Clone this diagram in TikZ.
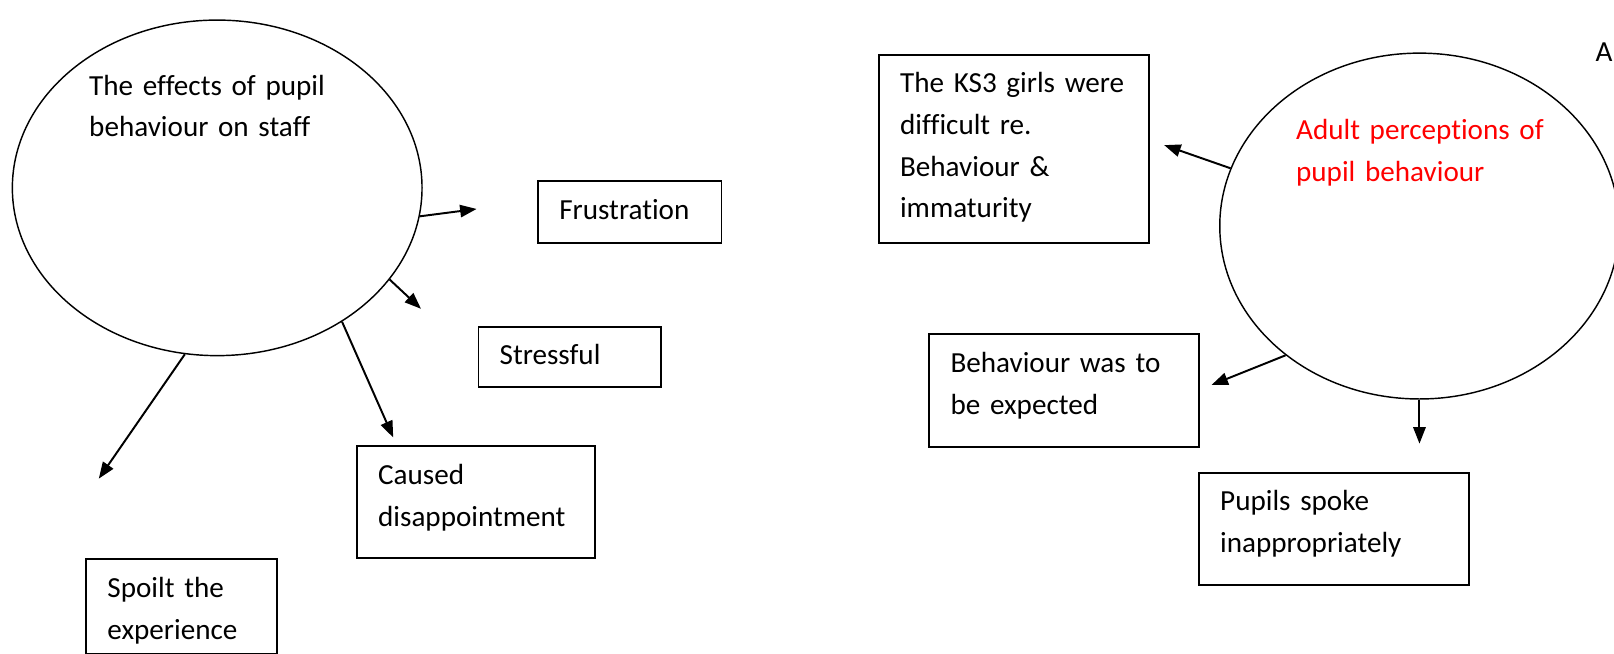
\documentclass[tikz,border=0pt]{standalone}
\usepackage{fontspec}
\setmainfont{Carlito}[Ligatures={NoCommon}]
\usetikzlibrary{shapes.geometric,arrows.meta}
\definecolor{labelred}{RGB}{255,0,0}
\newcommand\diagramfont{\fontsize{28.3}{40.6}\selectfont\setlength{\spaceskip}{6.4pt}}
\tikzset{
  every node/.style={font=\diagramfont},
  bubble/.style={draw, ellipse, inner sep=0pt, line width=1.4pt},
  idea/.style={draw, line width=1.8pt, anchor=north west, inner xsep=20.5pt,
    inner ysep=0pt, align=left},
  caption/.style={anchor=base west, inner sep=0pt, align=left, text width=320pt},
  link/.style={line width=1.9pt, -{Triangle[length=16pt,width=12pt]}}
}
\begin{document}
\begin{tikzpicture}[x=1pt,y=-1pt]
\useasboundingbox (0,0) rectangle (1568,635);

% left cluster: effects on staff
\node[bubble, minimum width=398pt, minimum height=326pt] (staff) at (211,182.5) {};
\node[caption] (stafftxt) at (86.5,92.3) {The effects of pupil\\behaviour on staff};

\node[idea, text width=137pt, text height=36.9pt, text depth=23.3pt] (frus) at (522,175) {Frustration};
\node[idea, text width=136pt, text height=36.4pt, text depth=22.2pt] (stress) at (464,316.4) {Stressful};
\node[idea, text width=190pt, text height=37.9pt, text depth=70.9pt] (disap) at (346,432.3) {Caused\\disappointment};
\node[idea, text width=144pt, text height=37.9pt, text depth=54.3pt] (spoil) at (83,541.8) {Spoilt the\\experience};

\coordinate (tipfrus) at (463,203);
\coordinate (tipstress) at (409,300);
\coordinate (tipdisap) at (382,425);
\coordinate (tipspoil) at (96,465);

\draw[link] (staff.-8.7) -- (tipfrus);
\draw[link] (staff.-28.1) -- (tipstress);
\draw[link] (staff.-47.3) -- (tipdisap);
\draw[link] (staff.-101.8) -- (tipspoil);

% right cluster: adult perceptions
\node[bubble, minimum width=388pt, minimum height=336pt] (adult) at (1379,219.6) {};
\node[caption, text=labelred] (adulttxt) at (1259,135.4) {Adult perceptions of\\pupil behaviour};
\node[anchor=base west, inner sep=0pt] (corner) at (1550,60) {A};

\node[idea, text width=221pt, text height=36.5pt, text depth=145.8pt] (ks3) at (853,52.5)
  {The KS3 girls were\\difficult re.\\Behaviour \&\\immaturity};
\node[idea, text width=221pt, text height=37.2pt, text depth=72pt] (expect) at (902,323.8)
  {Behaviour was to\\be expected};
\node[idea, text width=221pt, text height=35.9pt, text depth=72.6pt] (spoke) at (1164,458.9)
  {Pupils spoke\\inappropriately};

\coordinate (tipks3) at (1131,141);
\coordinate (tipexpect) at (1177,374);
\coordinate (tipspoke) at (1379,431);

\draw[link] (adult.163.2) -- (tipks3);
\draw[link] (adult.224.4) -- (tipexpect);
\draw[link] (adult.270) -- (tipspoke);
\end{tikzpicture}
\end{document}
